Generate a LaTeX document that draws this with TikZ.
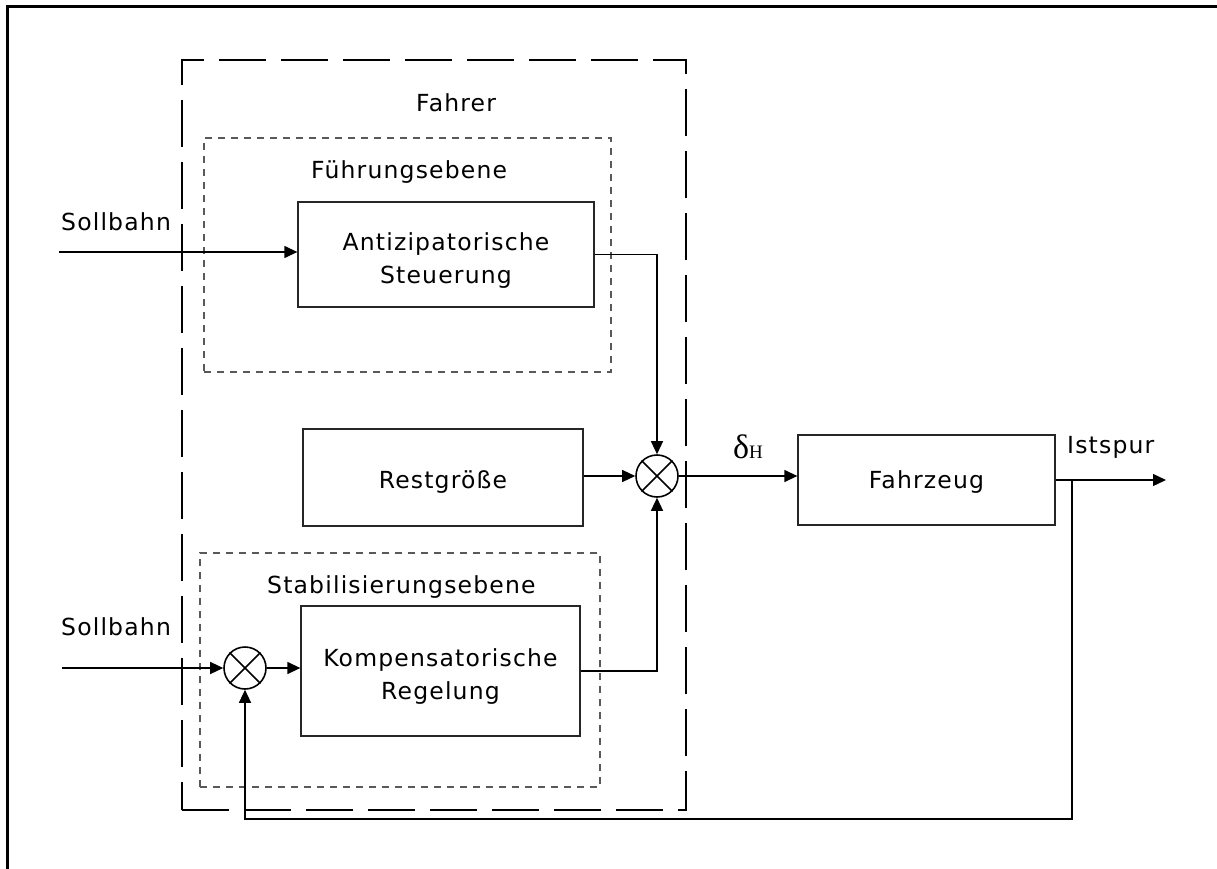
\documentclass[tikz,border=0pt]{standalone}
\usepackage{fontspec}
\setmainfont{DejaVu Sans}
\newfontfamily\lab[LetterSpace=5]{DejaVu Sans}
\newfontfamily\serif{Liberation Serif}
\usetikzlibrary{arrows.meta}
\newcommand\blktext[2][-5pt]{\raisebox{#1}[\height][\depth]{\begin{tabular}{@{}c@{}}#2\end{tabular}}}
\begin{document}
\begin{tikzpicture}[x=1pt,y=-1pt,
  txt/.style={font=\lab\fontsize{23.5}{33}\selectfont, inner sep=0pt, align=center},
  blk/.style={draw=black!85, line width=1.3pt, inner sep=0pt, txt},
  grp/.style={draw=black!65, line width=1.4pt, dash pattern=on 7pt off 6pt, inner sep=0pt},
  outer/.style={draw=black, line width=1.3pt, dash pattern=on 47pt off 15pt, inner sep=0pt},
  sum/.style={circle, draw=black, line width=1.6pt, minimum size=42pt, inner sep=0pt},
  arr/.style={draw=black, line width=1.3pt, -{Triangle[length=13pt,width=12pt]}},
  ln/.style={draw=black, line width=1.3pt}]
\useasboundingbox (0,0) rectangle (1217,869);
% frame
\draw[line width=3pt] (7,869) -- (7,7) -- (1217,7);
% groups
\node[outer, minimum width=504pt, minimum height=750pt] (fahrer) at (434,435) {};
\node[txt, anchor=west] (fahrerlbl) at (416,103) {Fahrer};
\node[grp, minimum width=407pt, minimum height=234pt] (fuehr) at (407.5,255) {};
\node[txt, anchor=west] (fuehrlbl) at (311,172) {Führungsebene};
\node[grp, minimum width=400pt, minimum height=234pt] (stab) at (400,670) {};
\node[txt, anchor=west] (stablbl) at (267,587) {Stabilisierungsebene};
% blocks
\node[blk, minimum width=296pt, minimum height=105pt] (anti) at (446,254.5) {\blktext[-6pt]{Antizipatorische\\Steuerung}};
\node[blk, minimum width=280pt, minimum height=97pt] (rest) at (443,477.5) {\blktext[-4pt]{Restgröße}};
\node[blk, minimum width=279pt, minimum height=130pt] (komp) at (440.5,671) {\blktext[-5pt]{Kompensatorische\\Regelung}};
\node[blk, minimum width=257pt, minimum height=90pt] (fz) at (926.5,480) {\blktext[-2pt]{Fahrzeug}};
% summing points
\node[sum] (s1) at (657,476) {};
\draw[line width=1.6pt] (s1.north east) -- (s1.south west) (s1.north west) -- (s1.south east);
\node[sum] (s2) at (245,668) {};
\draw[line width=1.6pt] (s2.north east) -- (s2.south west) (s2.north west) -- (s2.south east);
% labels
\node[txt, anchor=west] (soll1) at (61,222) {Sollbahn};
\node[txt, anchor=west] (soll2) at (61,627) {Sollbahn};
\node[inner sep=0pt, anchor=west, font=\serif\fontsize{34}{36}\selectfont] (delta) at (733,447) {δ\raisebox{0pt}{\fontsize{19}{20}\selectfont H}};
\node[txt, anchor=west] (ist) at (1067,447) {Istspur};
% coordinates
\coordinate (in1) at (59,252);
\coordinate (in2) at (62,668);
\coordinate (br) at (1072,480);
\coordinate (out) at (1166,480);
\coordinate (fb) at (245,819);
% connectors
\draw[arr] (in1) -- (anti.west |- in1);
\draw[arr] (anti.east) -| (s1.north);
\draw[arr] (rest.east |- s1.west) -- (s1.west);
\draw[arr] (komp.east) -| (s1.south);
\draw[arr] (s1.east) -- (fz.west |- s1.east);
\draw[arr] (fz.east) -- (out);
\draw[arr] (in2) -- (s2.west);
\draw[arr] (s2.east) -- (komp.west |- s2.east);
\draw[arr] (br) |- (fb) -- (s2.south);
\end{tikzpicture}
\end{document}
